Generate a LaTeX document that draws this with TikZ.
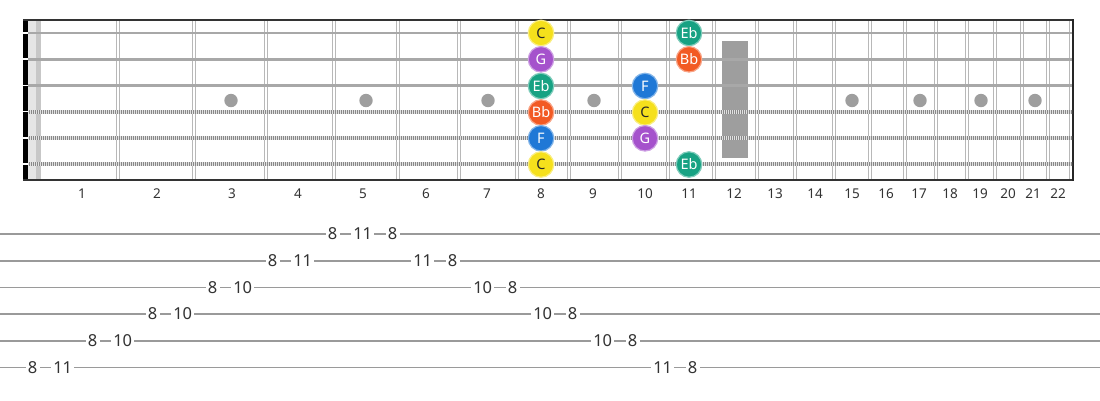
\documentclass[tikz,border=0pt]{standalone}
\usepackage{fontspec}
\setmainfont{Noto Sans}
\definecolor{fretc}{HTML}{B8B8B8}
\definecolor{plainc}{HTML}{A8A8A8}
\definecolor{woundc}{HTML}{888888}
\definecolor{inlayc}{HTML}{9E9E9E}
\definecolor{tabline}{HTML}{9A9A9A}
\definecolor{txtc}{HTML}{333333}
\definecolor{noteC}{HTML}{F5E01C}
\definecolor{noteG}{HTML}{A552CC}
\definecolor{noteEb}{HTML}{17A283}
\definecolor{noteBb}{HTML}{F25A24}
\definecolor{noteF}{HTML}{1F78D6}
\tikzset{
  fretwire/.style={fretc, line width=1.3},
  plainstring/.style={plainc, line width=2.8},
  woundstring/.style={woundc, line width=4},
  woundtex/.style={white, line width=4, dash pattern=on 0.7 off 1.3, opacity=0.75},
  inlay/.style={circle, fill=inlayc, minimum size=13.4, inner sep=0},
  fretnum/.style={text=txtc, font=\fontsize{13.5}{13.5}\selectfont, inner sep=0},
  note/.style={circle, minimum size=25.5, inner sep=0, line width=1.2,
     font=\fontsize{14.5}{14.5}\selectfont},
  nC/.style={note, fill=noteC, draw=noteC!55!white, text=black!85},
  nG/.style={note, fill=noteG, draw=noteG!55!white, text=white},
  nEb/.style={note, fill=noteEb, draw=noteEb!55!white, text=white},
  nBb/.style={note, fill=noteBb, draw=noteBb!55!white, text=white},
  nF/.style={note, fill=noteF, draw=noteF!55!white, text=white},
  tabl/.style={tabline, line width=1.6},
  tabnum/.style={fill=white, text=txtc, inner xsep=2.2, inner ysep=1, font=\fontsize{16.5}{16.5}\selectfont}
}
\begin{document}
\begin{tikzpicture}[x=1pt,y=-1pt]
\useasboundingbox (0,0) rectangle (1100,400);
% nut
\fill[black] (23,20) rectangle (28,181);
\fill[black!10] (28,20) rectangle (36,180);
\fill[black!22] (36,20) rectangle (41,180);
% frets
\foreach \f in {118,194,266,334,398,459,517,569,620,668,714,757,795,834,870,905,936,967,995,1022,1048}{
  \draw[fretwire] (\f-1.6,20) -- (\f-1.6,180);
  \draw[fretwire] (\f+1.6,20) -- (\f+1.6,180);
}
\draw[fretwire] (1069.5,20) -- (1069.5,180);
% inlays
\foreach \x [count=\i] in {231,366,488,594,852,920,981,1035}
  \node[inlay] (inlay\i) at (\x,100.5) {};
\fill[inlayc] (722,40.5) rectangle (748,157.5);
% borders
\draw[black!80, line width=2] (23,20) -- (1074,20);
\draw[black!80, line width=2] (23,180) -- (1074,180);
\draw[black!85, line width=2] (1073,19) -- (1073,181);
% strings
\foreach \y in {33,59.2,85.4}{
  \draw[plainstring] (28,\y) -- (1072,\y);
  \draw[white, line width=1.6] (23,\y) -- (28,\y);
}
\foreach \y in {111.6,137.8,164}{
  \draw[woundstring] (28,\y) -- (1072,\y);
  \draw[woundtex] (28,\y) -- (1072,\y);
  \draw[white, line width=1.6] (23,\y) -- (28,\y);
}
% fret numbers
\foreach \x [count=\i] in {82,157,232,298,363,426,487,541,593,645,689,734,775,815,852,886,919,950,980,1008,1033,1058}
  \node[fretnum] (fn\i) at (\x,194) {\i};
% notes
\node[nC]  (n1) at (541,33) {C};
\node[nG]  (n2) at (541,59.3) {G};
\node[nEb] (n3) at (541,86) {Eb};
\node[nBb] (n4) at (541,112.5) {Bb};
\node[nF]  (n5) at (541,138.3) {F};
\node[nC]  (n6) at (541,164.5) {C};
\node[nF]  (n7) at (645,86) {F};
\node[nC]  (n8) at (645,112.5) {C};
\node[nG]  (n9) at (645,138.3) {G};
\node[nEb] (n10) at (689,33) {Eb};
\node[nBb] (n11) at (689,59.3) {Bb};
\node[nEb] (n12) at (689,164.5) {Eb};
% tab lines
\foreach \y in {234,260.7,287.3,314,340.7,367.3}
  \draw[tabl] (0,\y) -- (1100,\y);
% tab numbers
\node[tabnum] (t1) at (32.7,367.3) {8};
\node[tabnum] (t2) at (62.7,367.3) {11};
\node[tabnum] (t3) at (92.7,340.7) {8};
\node[tabnum] (t4) at (122.7,340.7) {10};
\node[tabnum] (t5) at (152.7,314) {8};
\node[tabnum] (t6) at (182.7,314) {10};
\node[tabnum] (t7) at (212.7,287.3) {8};
\node[tabnum] (t8) at (242.7,287.3) {10};
\node[tabnum] (t9) at (272.7,260.7) {8};
\node[tabnum] (t10) at (302.7,260.7) {11};
\node[tabnum] (t11) at (332.7,234) {8};
\node[tabnum] (t12) at (362.7,234) {11};
\node[tabnum] (t13) at (392.7,234) {8};
\node[tabnum] (t14) at (422.7,260.7) {11};
\node[tabnum] (t15) at (452.7,260.7) {8};
\node[tabnum] (t16) at (482.7,287.3) {10};
\node[tabnum] (t17) at (512.7,287.3) {8};
\node[tabnum] (t18) at (542.7,314) {10};
\node[tabnum] (t19) at (572.7,314) {8};
\node[tabnum] (t20) at (602.7,340.7) {10};
\node[tabnum] (t21) at (632.7,340.7) {8};
\node[tabnum] (t22) at (662.7,367.3) {11};
\node[tabnum] (t23) at (692.7,367.3) {8};
\end{tikzpicture}
\end{document}
